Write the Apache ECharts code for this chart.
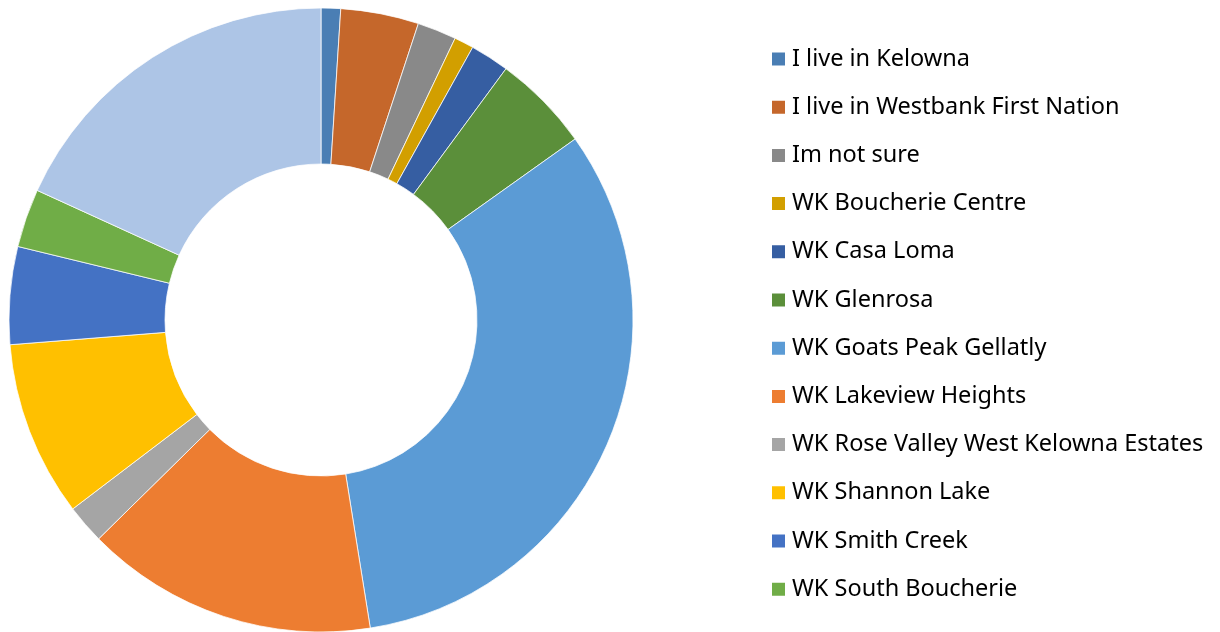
<!DOCTYPE html>
<html>
<head>
<meta charset="utf-8">
<script src="https://cdn.jsdelivr.net/npm/echarts@6/dist/echarts.min.js"></script>
<style>
  html, body { margin: 0; padding: 0; background: #ffffff; }
  #chart { width: 1220px; height: 632px; }
</style>
</head>
<body>
<div id="chart"></div>
<script>
const categories = [
  "I live in Kelowna",
  "I live in Westbank First Nation",
  "Im not sure",
  "WK Boucherie Centre",
  "WK Casa Loma",
  "WK Glenrosa",
  "WK Goats Peak Gellatly",
  "WK Lakeview Heights",
  "WK Rose Valley West Kelowna Estates",
  "WK Shannon Lake",
  "WK Smith Creek",
  "WK South Boucherie",
  "WK Westbank Centre"
];
const values = [1, 4, 2, 1, 2, 5, 32, 15, 2, 9, 5, 3, 18];
const colors = [
  "#4A7EB4", "#C5672B", "#898989", "#D29F00", "#365EA2", "#5B8F3A",
  "#5B9BD5", "#ED7D31", "#A5A5A5", "#FFC000", "#4472C4", "#70AD47", "#ADC5E6"
];
const legendNames = categories.slice(0, 12);

const chart = echarts.init(document.getElementById('chart'), null, { renderer: 'canvas' });
chart.setOption({
  animation: false,
  color: colors,
  legend: {
    orient: 'vertical',
    left: 770,
    top: 47,
    padding: 0,
    data: legendNames,
    icon: 'rect',
    itemWidth: 15,
    itemHeight: 15,
    itemGap: 24.2,
    selectedMode: false,
    textStyle: {
      fontFamily: 'Noto Sans',
      fontSize: 23.5,
      lineHeight: 24,
      color: '#000000',
      padding: [0, 0, 0, 1]
    }
  },
  series: [{
    type: 'pie',
    center: [321, 320],
    radius: [156, 312],
    startAngle: 90,
    clockwise: true,
    avoidLabelOverlap: false,
    label: { show: false },
    labelLine: { show: false },
    emphasis: { disabled: true },
    itemStyle: { borderColor: '#ffffff', borderWidth: 0.75 },
    data: categories.map((c, i) => ({ name: c, value: values[i] }))
  }]
});
</script>
</body>
</html>
